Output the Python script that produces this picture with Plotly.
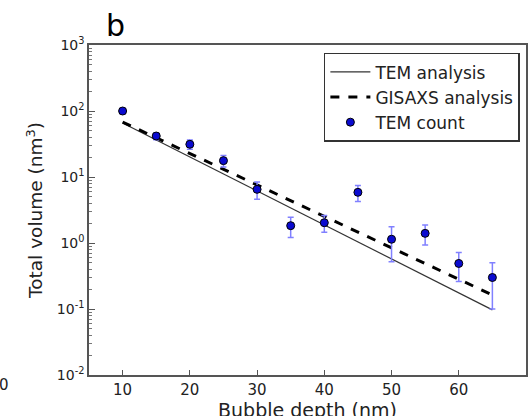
import plotly.graph_objects as go

# Data
depth = [10, 15, 20, 25, 30, 35, 40, 45, 50, 55, 60, 65]
tem_count = [100, 41.8, 31.3, 17.7, 6.5, 1.83, 2.03, 5.86, 1.14, 1.40, 0.49, 0.30]
tem_err = [10, 5, 5, 3.5, 1.9, 0.62, 0.58, 1.6, 0.62, 0.47, 0.23, 0.2]

line_x = [10, 65]
tem_analysis = [65.8, 0.097]
gisaxs_analysis = [68.0, 0.163]

x_ticks = [10, 20, 30, 40, 50, 60, 70]
y_exponents = [-2, -1, 0, 1, 2, 3]

FONT = "DejaVu Sans"

y_tickvals = [10.0 ** e for e in y_exponents]
y_ticktext = [f"10<sup>{e}</sup>" for e in y_exponents]
y_minor = [m * 10.0 ** e for e in y_exponents[:-1] for m in range(2, 10)]

fig = go.Figure()
fig.add_trace(go.Scatter(
    x=line_x, y=tem_analysis, mode="lines", name="TEM analysis",
    line=dict(color="#333333", width=1.2)))
fig.add_trace(go.Scatter(
    x=line_x, y=gisaxs_analysis, mode="lines", name="GISAXS analysis",
    line=dict(color="black", width=3, dash="dash")))
fig.add_trace(go.Scatter(
    x=depth, y=tem_count, mode="markers", name="TEM count",
    marker=dict(color="#0a0ad0", size=8, line=dict(color="black", width=1)),
    error_y=dict(type="data", array=tem_err, visible=True,
                 color="#8080ff", thickness=1.5, width=3)))

fig.update_layout(
    width=528, height=416,
    margin=dict(l=89, r=2, t=45, b=41),
    plot_bgcolor="white", paper_bgcolor="white",
    font=dict(family=FONT, color="#222222", size=14),
    showlegend=True,
    legend=dict(x=0.986, y=0.976, xanchor="right", yanchor="top",
                bordercolor="#333333", borderwidth=1.5, bgcolor="white",
                font=dict(family=FONT, size=17, color="#222222"),
                itemwidth=40, tracegroupgap=0),
)

fig.update_xaxes(
    range=[5, 70], tickvals=x_ticks, ticks="inside", ticklen=5,
    tickcolor="#555555", showline=True, linecolor="#555555", linewidth=1.5,
    mirror=True, showgrid=False, zeroline=False,
    tickfont=dict(family=FONT, size=15, color="#222222"),
    automargin=False)

fig.update_yaxes(
    type="log", range=[-2, 3], tickmode="array", tickvals=y_tickvals, ticktext=y_ticktext,
    ticks="inside", ticklen=6, tickcolor="#555555",
    minor=dict(ticks="inside", ticklen=3, tickcolor="#777777", showgrid=False,
               tickmode="array", tickvals=y_minor),
    showline=True, linecolor="#555555", linewidth=1.5, mirror=True,
    showgrid=False, zeroline=False,
    tickfont=dict(family=FONT, size=14, color="#222222"),
    title=dict(text="Total volume (nm<sup>3</sup>)",
               font=dict(family=FONT, size=18.5, color="#222222"), standoff=9),
    automargin=False)

fig.add_annotation(text="Bubble depth (nm)", xref="paper", yref="paper", x=0.5, y=-0.066,
                   xanchor="center", yanchor="top", showarrow=False,
                   font=dict(family=FONT, size=19, color="#222222"))
fig.add_annotation(text="b", xref="paper", yref="paper", x=0.035, y=1.0,
                   xanchor="left", yanchor="bottom", showarrow=False,
                   font=dict(family=FONT, size=30, color="black"))
fig.add_annotation(text="0", xref="paper", yref="paper", x=-0.21, y=-0.03,
                   xanchor="left", yanchor="middle", showarrow=False,
                   font=dict(family=FONT, size=15, color="#222222"))

fig.write_html("out.html", config={"displayModeBar": False},
               post_script="document.body.style.margin='0';document.body.style.overflow='hidden';")
